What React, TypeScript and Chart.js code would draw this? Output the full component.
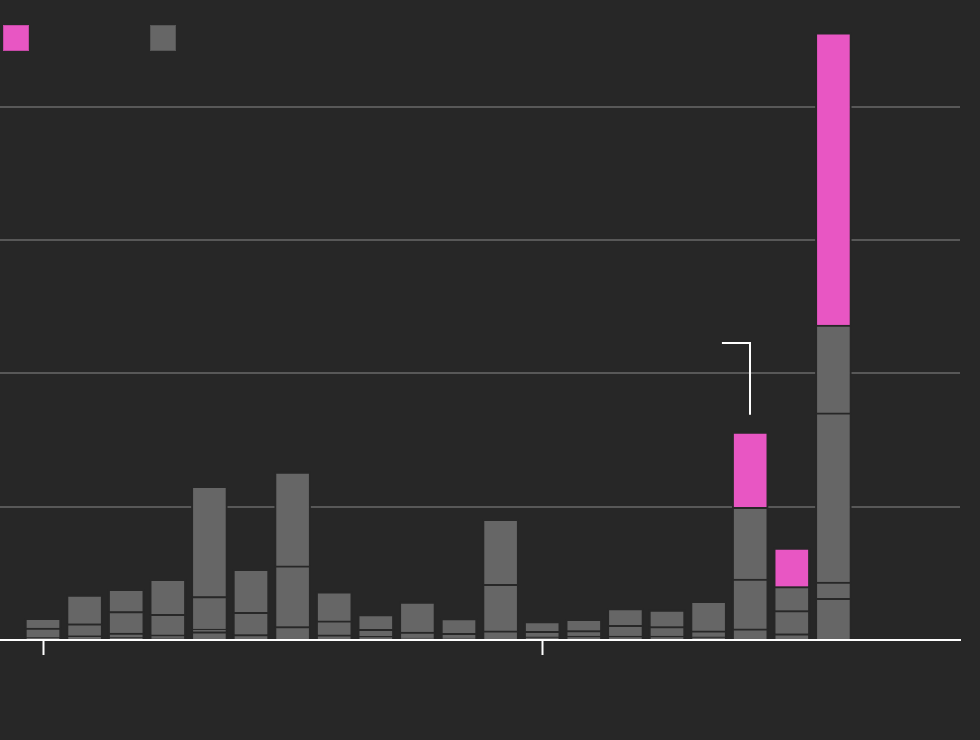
import React, { useEffect, useRef } from "react";
import { Chart, registerables } from "chart.js";

Chart.register(...registerables);

// Bar positions (index along the x axis)
const barIndex = [0, 1, 2, 3, 4, 5, 6, 7, 8, 9, 10, 11, 12, 13, 14, 15, 16, 17, 18, 19];
// Stacked grey layers, bottom to top
const grayA = [2.0, 3.2, 2.0, 1.5, 6.2, 4.0, 10.0, 3.8, 2.8, 1.5, 1.5, 6.8, 2.3, 3.0, 3.0, 3.0, 2.3, 8.3, 4.7, 31.3];
const grayB = [7.0, 9.0, 3.2, 2.3, 2.0, 16.7, 45.6, 10.5, 5.3, 4.5, 3.5, 34.9, 4.3, 4.0, 8.1, 7.0, 4.5, 37.5, 17.3, 12.1];
const grayC = [7.3, 21.5, 16.1, 15.4, 24.4, 32.4, 70.5, 21.8, 11.0, 22.5, 11.0, 48.9, 7.2, 8.6, 12.4, 12.5, 22.3, 53.8, 18.0, 127.0];
const grayD = [null, null, 16.7, 26.4, 82.7, null, null, null, null, null, null, null, null, null, null, null, null, null, null, 66.0];
// Highlighted (pink) top layer
const pink = [null, null, null, null, null, null, null, null, null, null, null, null, null, null, null, null, null, 56.5, 28.9, 219.2];
// x-axis tick positions
const xTicks = [0, 12];
// y-axis
const yMax = 480.3;
const yStep = 100;
// Callout bracket (in data units)
const calloutX = 17;
const calloutX0 = 16.32;
const calloutYLow = 169;
const calloutYHigh = 223;

const BG = "#272727";
const GRAY = "#666666";
const PINK = "#e856c3";

export default function App() {
  const canvasRef = useRef<HTMLCanvasElement | null>(null);

  useEffect(() => {
    document.body.style.margin = "0";
    document.body.style.background = BG;
    const canvas = canvasRef.current;
    if (!canvas) return;

    const mk = (arr: (number | null)[], color: string) => ({
      data: barIndex.map((x, i) => ({ x, y: arr[i] })),
      backgroundColor: color,
      borderColor: BG,
      borderWidth: 2,
      barThickness: 36,
    });

    const callout = {
      id: "callout",
      afterDatasetsDraw(chart: any) {
        const xs = chart.scales.x;
        const ys = chart.scales.y;
        const ctx = chart.ctx;
        const x1 = Math.round(xs.getPixelForValue(calloutX));
        const x0 = xs.getPixelForValue(calloutX0);
        const yTop = Math.round(ys.getPixelForValue(calloutYHigh));
        const yLow = ys.getPixelForValue(calloutYLow);
        ctx.save();
        ctx.strokeStyle = "#ffffff";
        ctx.lineWidth = 2;
        ctx.beginPath();
        ctx.moveTo(x0, yTop);
        ctx.lineTo(x1, yTop);
        ctx.lineTo(x1, yLow);
        ctx.stroke();
        ctx.restore();
      },
    };

    const chart = new Chart(canvas, {
      type: "bar",
      data: {
        datasets: [
          mk(grayA, GRAY),
          mk(grayB, GRAY),
          mk(grayC, GRAY),
          mk(grayD, GRAY),
          mk(pink, PINK),
        ] as any,
      },
      options: {
        animation: false,
        responsive: false,
        maintainAspectRatio: false,
        layout: { padding: { left: 0, right: 20, top: 0, bottom: 85 } },
        plugins: {
          legend: { display: false },
          tooltip: { enabled: false },
        },
        scales: {
          x: {
            type: "linear",
            stacked: true,
            offset: false,
            min: -1.0337,
            max: 22.0433,
            afterBuildTicks: (scale: any) => {
              scale.ticks = xTicks.map((v) => ({ value: v }));
            },
            ticks: { display: false },
            grid: {
              display: true,
              offset: false,
              drawOnChartArea: false,
              drawTicks: true,
              tickLength: 15,
              tickColor: "#ffffff",
              tickWidth: 2,
              color: "#ffffff",
            },
            border: { display: true, color: "#ffffff", width: 2 },
          },
          y: {
            stacked: true,
            min: 0,
            max: yMax,
            ticks: { display: false, stepSize: yStep },
            grid: {
              drawTicks: false,
              lineWidth: 2,
              color: (c: any) =>
                c.tick && c.tick.value > 0 && c.tick.value % yStep === 0 ? "#585858" : "rgba(0,0,0,0)",
            },
            border: { display: false },
          },
        },
      } as any,
      plugins: [callout],
    });

    return () => chart.destroy();
  }, []);

  const sq = (left: number, color: string) => (
    <div
      style={{
        position: "absolute",
        left,
        top: 25,
        width: 26,
        height: 26,
        background: color,
        boxSizing: "border-box",
        border: "1px solid rgba(0,0,0,0.15)",
      }}
    />
  );

  return (
    <div
      style={{
        position: "fixed",
        left: 0,
        top: 0,
        width: 980,
        height: 740,
        background: BG,
      }}
    >
      <canvas ref={canvasRef} width={980} height={740} style={{ display: "block", width: 980, height: 740 }} />
      {sq(3, PINK)}
      {sq(150, GRAY)}
    </div>
  );
}
